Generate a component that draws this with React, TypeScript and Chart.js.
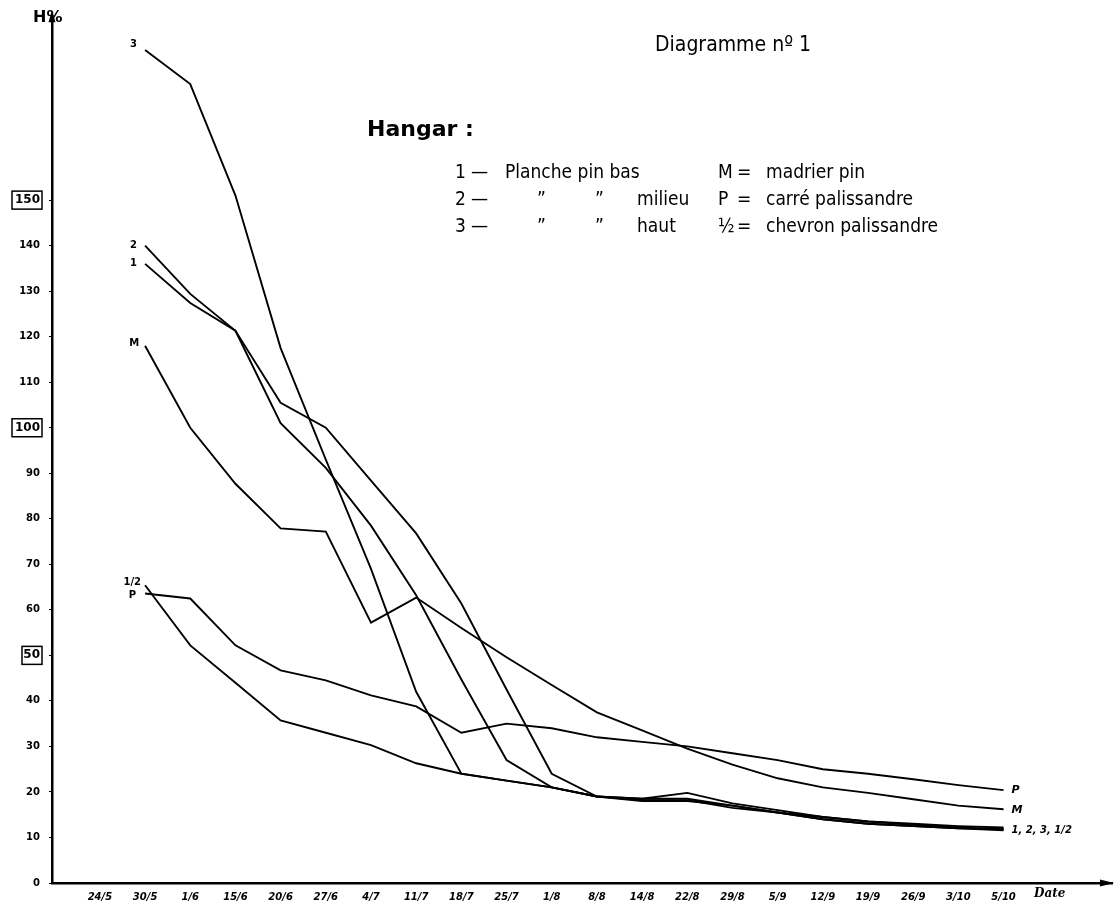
import React, { useEffect, useRef } from "react";
import { Chart, registerables } from "chart.js";

Chart.register(...registerables);

const dates = ["24/5", "30/5", "1/6", "15/6", "20/6", "27/6", "4/7", "11/7", "18/7", "25/7", "1/8", "8/8", "14/8", "22/8", "29/8", "5/9", "12/9", "19/9", "26/9", "3/10", "5/10"];

const serie3 = [null, 183, 175.5, 151, 117.5, 93, 69, 42, 24, 22.5, 21, 19, 18.5, 18.5, 17, 15.5, 14.5, 13.5, 13, 12.5, 12.2];
const serie2 = [null, 140, 129.4, 121.3, 105.5, 100, 88.4, 76.8, 61.4, 42.5, 24, 19, 18.5, 19.8, 17.5, 16, 14.5, 13.5, 12.8, 12.2, 11.8];
const serie1 = [null, 136, 127.4, 121.3, 101, 91.2, 78.5, 63.2, 44.7, 27, 21, 19, 18, 18, 17, 15.5, 14, 13, 12.5, 12, 11.6];
const serieM = [null, 118, 100, 87.7, 77.9, 77.2, 57.2, 62.7, 56, 49.6, 43.5, 37.5, 33.5, 29.5, 26, 23, 21, 19.8, 18.4, 17, 16.2];
const serieP = [null, 63.6, 62.5, 52.2, 46.7, 44.5, 41.2, 38.8, 33, 35, 34, 32, 31, 30, 28.5, 27, 25, 24, 22.8, 21.5, 20.4];
const serieHalf = [null, 65.4, 52.2, 44, 35.7, 33, 30.3, 26.3, 24, 22.5, 21, 19, 18.2, 18.2, 16.5, 15.5, 14, 13, 12.5, 12, 11.9];

const seriesNames = ["3", "2", "1", "M", "1/2", "P"];
const yTicks = [0, 10, 20, 30, 40, 50, 60, 70, 80, 90, 100, 110, 120, 130, 140, 150];
const boxedTicks = [50, 100, 150];

const allSeries = [serie3, serie2, serie1, serieM, serieHalf, serieP];

const startOffsets: Record<string, [number, number]> = {
  "3": [-8, -5],
  "2": [-8, 0],
  "1": [-8, 0],
  "M": [-6, -2],
  "1/2": [-4, -3],
  "P": [-9, 2],
};

const handFont = "'DejaVu Sans', sans-serif";

const decorPlugin = {
  id: "decor",
  afterDatasetsDraw(chart: any) {
    const { ctx, scales, chartArea } = chart;
    const xs = scales.x;
    const ys = scales.y;
    ctx.save();
    ctx.fillStyle = "#000";
    ctx.strokeStyle = "#000";
    ctx.font = `bold 10px ${handFont}`;
    ctx.textBaseline = "middle";
    ctx.textAlign = "right";
    allSeries.forEach((s, k) => {
      const name = seriesNames[k];
      const idx = s.findIndex((v) => v !== null);
      const px = xs.getPixelForValue(idx);
      const py = ys.getPixelForValue(s[idx] as number);
      const off = startOffsets[name];
      ctx.fillText(name, px + off[0], py + off[1]);
    });
    ctx.textAlign = "left";
    const last = dates.length - 1;
    const lx = xs.getPixelForValue(last) + 8;
    ctx.font = `bold italic 11px ${handFont}`;
    ctx.fillText("P", lx, ys.getPixelForValue(serieP[last] as number));
    ctx.fillText("M", lx, ys.getPixelForValue(serieM[last] as number) + 1);
    const bunch = ([serie1[last], serie2[last], serie3[last], serieHalf[last]] as number[]);
    const avg = bunch.reduce((a, b) => a + b, 0) / bunch.length;
    ctx.font = `bold italic 10px ${handFont}`;
    ctx.fillText("1, 2, 3, 1/2", lx, ys.getPixelForValue(avg) + 1);

    ctx.lineWidth = 1.5;
    boxedTicks.forEach((v) => {
      const py = ys.getPixelForValue(v);
      const right = chartArea.left - 12;
      const w = v >= 100 ? 30 : 20;
      ctx.strokeRect(right - w + 2, py - 9, w, 18);
    });

    ctx.beginPath();
    ctx.moveTo(chartArea.left, chartArea.top - 6);
    ctx.lineTo(chartArea.left - 3.5, chartArea.top + 6);
    ctx.lineTo(chartArea.left + 3.5, chartArea.top + 6);
    ctx.closePath();
    ctx.fill();
    ctx.beginPath();
    ctx.moveTo(chartArea.right + 2, chartArea.bottom);
    ctx.lineTo(chartArea.right - 12, chartArea.bottom - 3.5);
    ctx.lineTo(chartArea.right - 12, chartArea.bottom + 3.5);
    ctx.closePath();
    ctx.fill();
    ctx.restore();
  },
};

const abs = (left: number, top: number, extra: React.CSSProperties = {}): React.CSSProperties => ({
  position: "absolute",
  left,
  top,
  whiteSpace: "nowrap",
  lineHeight: 1,
  color: "#000",
  fontFamily: "'DejaVu Sans Condensed', 'DejaVu Sans', sans-serif",
  fontSize: 19,
  ...extra,
});

export default function App() {
  const canvasRef = useRef<HTMLCanvasElement | null>(null);

  useEffect(() => {
    document.body.style.margin = "0";
    const canvas = canvasRef.current;
    if (!canvas) return;
    const mk = (data: (number | null)[], label: string) => ({
      label,
      data: data.map((v, i) => ({ x: i, y: v })),
      borderColor: "#000",
      borderWidth: 1.9,
      pointRadius: 0,
      tension: 0,
      fill: false,
      spanGaps: false,
    });
    const chart = new Chart(canvas, {
      type: "line",
      data: {
        datasets: [
          mk(serie3, "3"),
          mk(serie2, "2"),
          mk(serie1, "1"),
          mk(serieM, "M"),
          mk(serieHalf, "1/2"),
          mk(serieP, "P"),
        ],
      },
      options: {
        animation: false,
        responsive: false,
        devicePixelRatio: 1,
        layout: { padding: { top: 15, right: 4, bottom: 0, left: 0 } },
        plugins: {
          legend: { display: false },
          tooltip: { enabled: false },
          title: { display: false },
        },
        scales: {
          x: {
            type: "linear",
            min: -1.06,
            max: 22.4,
            grid: { display: false },
            border: { display: true, color: "#000", width: 2.5 },
            afterBuildTicks: (scale: any) => {
              scale.ticks = dates.map((_, i) => ({ value: i }));
            },
            afterFit: (scale: any) => {
              scale.height = 26;
            },
            ticks: {
              autoSkip: false,
              maxRotation: 0,
              minRotation: 0,
              padding: 0,
              color: "#000",
              font: { family: handFont, size: 10, weight: "bold", style: "italic" },
              callback: (v: any) => {
                const i = Number(v);
                return Number.isInteger(i) && i >= 0 && i < dates.length ? dates[i] : "";
              },
            },
          },
          y: {
            type: "linear",
            min: 0,
            max: 190.4,
            grid: {
              display: true,
              drawOnChartArea: false,
              drawTicks: true,
              tickLength: 3,
              color: "#000",
              lineWidth: 1,
            },
            border: { display: true, color: "#000", width: 2.5 },
            afterBuildTicks: (scale: any) => {
              scale.ticks = yTicks.map((v) => ({ value: v }));
            },
            afterFit: (scale: any) => {
              scale.width = 52;
            },
            ticks: {
              padding: 9,
              color: "#000",
              font: (c: any) =>
                boxedTicks.includes(c.tick && c.tick.value)
                  ? { family: handFont, size: 12, weight: "bold" }
                  : { family: handFont, size: 10, weight: "bold" },
              callback: (v: any) => String(v),
            },
          },
        },
      },
      plugins: [decorPlugin],
    } as any);
    return () => chart.destroy();
  }, []);

  return (
    <div style={{ position: "relative", width: 1116, height: 909, background: "#fff", overflow: "hidden" }}>
      <canvas ref={canvasRef} width={1116} height={909} style={{ display: "block" }} />
      <div style={abs(33, 9, { fontSize: 16, fontWeight: "bold", fontFamily: "'DejaVu Sans', sans-serif" })}>H%</div>
      <div style={abs(655, 34, { fontSize: 21 })}>Diagramme nº 1</div>
      <div style={abs(367, 118, { fontSize: 22, fontWeight: "bold", fontFamily: "'DejaVu Sans', sans-serif" })}>Hangar :</div>

      <div style={abs(455, 162)}>1</div>
      <div style={abs(471, 162)}>—</div>
      <div style={abs(505, 162)}>Planche pin bas</div>
      <div style={abs(718, 162)}>M</div>
      <div style={abs(737, 162)}>=</div>
      <div style={abs(766, 162)}>madrier pin</div>

      <div style={abs(455, 189)}>2</div>
      <div style={abs(471, 189)}>—</div>
      <div style={abs(537, 189)}>”</div>
      <div style={abs(595, 189)}>”</div>
      <div style={abs(637, 189)}>milieu</div>
      <div style={abs(718, 189)}>P</div>
      <div style={abs(737, 189)}>=</div>
      <div style={abs(766, 189)}>carré palissandre</div>

      <div style={abs(455, 216)}>3</div>
      <div style={abs(471, 216)}>—</div>
      <div style={abs(537, 216)}>”</div>
      <div style={abs(595, 216)}>”</div>
      <div style={abs(637, 216)}>haut</div>
      <div style={abs(718, 216)}>½</div>
      <div style={abs(737, 216)}>=</div>
      <div style={abs(766, 216)}>chevron palissandre</div>

      <div style={abs(1034, 887, { fontSize: 12, fontWeight: "bold", fontStyle: "italic", fontFamily: "'DejaVu Serif', serif" })}>Date</div>
    </div>
  );
}
